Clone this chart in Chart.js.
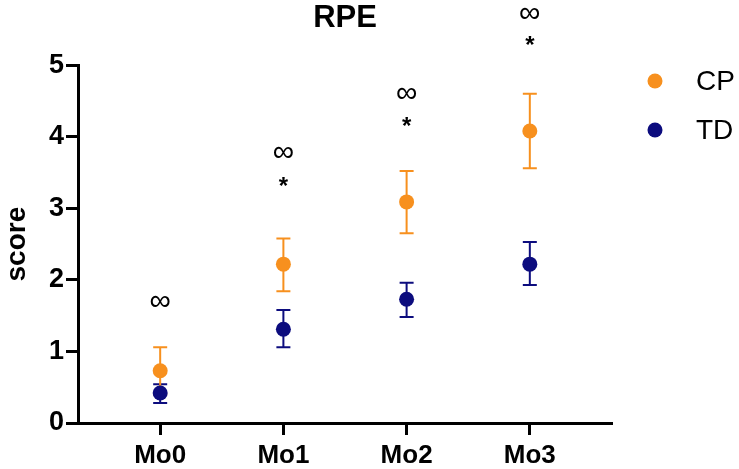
<!DOCTYPE html>
<html>
<head>
<meta charset="utf-8">
<script src="https://cdn.jsdelivr.net/npm/chart.js@4.4.1/dist/chart.umd.min.js"></script>
<style>
  html, body { margin:0; padding:0; background:#fff; }
  #wrap { width:739px; height:469px; }
</style>
</head>
<body>
<div id="wrap"><canvas id="c" width="739" height="469"></canvas></div>
<script>
// RPE score per month — mean ± error
const labels   = ['Mo0', 'Mo1', 'Mo2', 'Mo3'];
const cpMean   = [0.73, 2.22, 3.09, 4.08];
const cpLow    = [0.40, 1.84, 2.65, 3.56];
const cpHigh   = [1.06, 2.58, 3.52, 4.60];
const tdMean   = [0.42, 1.31, 1.73, 2.22];
const tdLow    = [0.28, 1.06, 1.48, 1.93];
const tdHigh   = [0.54, 1.58, 1.96, 2.53];
// significance marks (y position in score units)
const infMarks  = [1.70, 3.78, 4.60, 5.72];
const starMarks = [null, 3.35, 4.19, 5.32];

const ORANGE = '#F7901E';
const NAVY   = '#0C0C7E';
const FONT   = "'Liberation Sans', Arial, sans-serif";

const toPts = arr => arr.map((v, i) => ({ x: i, y: v }));

const errBars = {
  id: 'errBars',
  beforeDatasetsDraw(chart) {
    const { ctx, scales: { x, y } } = chart;
    chart.data.datasets.forEach(ds => {
      ds.low.forEach((lo, i) => {
        const px = x.getPixelForValue(i);
        const y1 = y.getPixelForValue(lo), y2 = y.getPixelForValue(ds.high[i]);
        ctx.save();
        ctx.strokeStyle = ds.borderColor;
        ctx.lineWidth = 2;
        ctx.beginPath();
        ctx.moveTo(px, y1); ctx.lineTo(px, y2);
        ctx.moveTo(px - 7, y1); ctx.lineTo(px + 7, y1);
        ctx.moveTo(px - 7, y2); ctx.lineTo(px + 7, y2);
        ctx.stroke();
        ctx.restore();
      });
    });
  }
};

const marks = {
  id: 'marks',
  afterDraw(chart) {
    const { ctx, scales: { x, y }, chartArea } = chart;
    ctx.save();
    ctx.fillStyle = '#000';
    ctx.textAlign = 'center';
    ctx.textBaseline = 'middle';
    infMarks.forEach((v, i) => {
      if (v == null) return;
      ctx.font = '30px ' + FONT;
      ctx.fillText('∞', x.getPixelForValue(i), y.getPixelForValue(v));
    });
    starMarks.forEach((v, i) => {
      if (v == null) return;
      ctx.font = 'bold 24px ' + FONT;
      ctx.fillText('*', x.getPixelForValue(i), y.getPixelForValue(v) + 4);
    });
    // legend
    const lx = chartArea.right + 43;
    chart.data.datasets.slice().sort((a, b) => a.legendIdx - b.legendIdx).forEach((ds, k) => {
      const ly = 81 + k * 49;
      ctx.beginPath();
      ctx.fillStyle = ds.backgroundColor;
      ctx.arc(lx, ly, 7.5, 0, Math.PI * 2);
      ctx.fill();
      ctx.fillStyle = '#000';
      ctx.font = '28px ' + FONT;
      ctx.textAlign = 'left';
      ctx.fillText(ds.label, lx + 41, ly + 1);
    });
    ctx.restore();
  }
};

new Chart(document.getElementById('c'), {
  type: 'scatter',
  data: {
    datasets: [
      { label: 'TD', data: toPts(tdMean), low: tdLow, high: tdHigh, legendIdx: 1,
        backgroundColor: NAVY, borderColor: NAVY, pointRadius: 7.5, pointBorderWidth: 0 },
      { label: 'CP', data: toPts(cpMean), low: cpLow, high: cpHigh, legendIdx: 0,
        backgroundColor: ORANGE, borderColor: ORANGE, pointRadius: 7.5, pointBorderWidth: 0 },
    ]
  },
  options: {
    responsive: false, animation: false, devicePixelRatio: 1,
    layout: { padding: { left: 0, right: 127, top: 0, bottom: 0 } },
    plugins: {
      legend: { display: false },
      tooltip: { enabled: false },
      title: { display: true, text: 'RPE', fullSize: false, color: '#000',
        font: { family: FONT, size: 31, weight: 'bold' }, padding: { top: 0, bottom: 28 } }
    },
    scales: {
      x: {
        type: 'linear', min: -0.667, max: 3.667,
        afterBuildTicks: s => { s.ticks = labels.map((_, i) => ({ value: i })); },
        afterFit: s => { s.height = 46; },
        ticks: { callback: v => labels[v], color: '#000', padding: 5, maxRotation: 0,
          font: { family: FONT, size: 26, weight: 'bold' } },
        grid: { drawOnChartArea: false, drawTicks: true, tickLength: 12, tickWidth: 3, color: '#000' },
        border: { color: '#000', width: 3 }
      },
      y: {
        min: 0, max: 5,
        afterFit: s => { s.width = 78; },
        ticks: { stepSize: 1, color: '#000', padding: 2,
          font: { family: FONT, size: 27, weight: 'bold' } },
        grid: { drawOnChartArea: false, drawTicks: true, tickLength: 12, tickWidth: 3, color: '#000' },
        border: { color: '#000', width: 3 },
        title: { display: true, text: 'score', color: '#000', padding: 0,
          font: { family: FONT, size: 28, weight: 'bold' } }
      }
    }
  },
  plugins: [errBars, marks]
});
</script>
</body>
</html>
